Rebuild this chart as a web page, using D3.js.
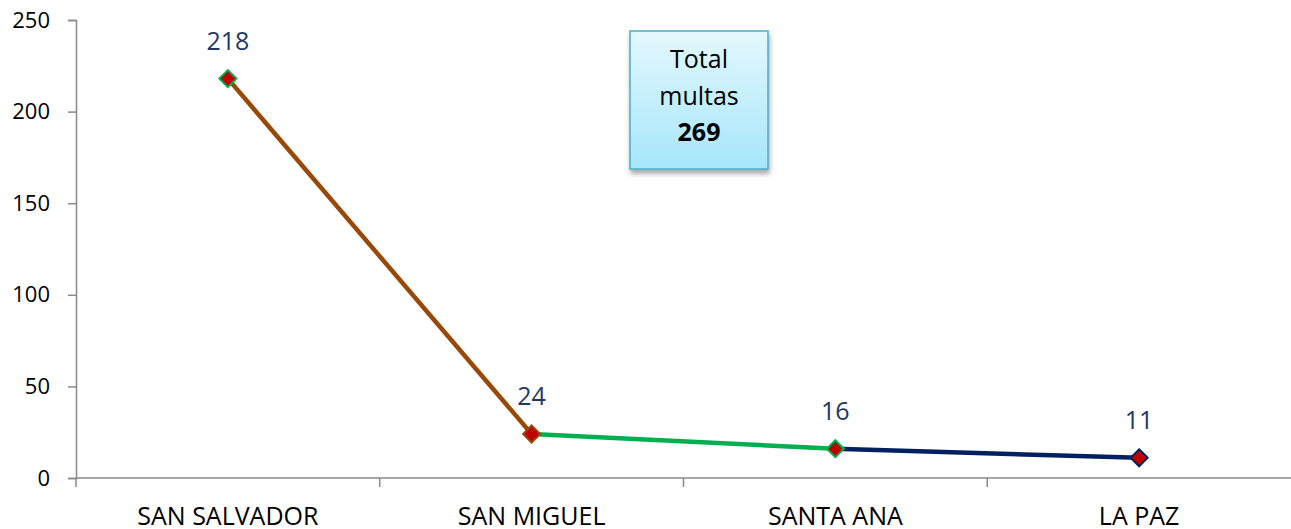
<!DOCTYPE html>
<html>
<head>
<meta charset="utf-8">
<script src="https://cdn.jsdelivr.net/npm/d3@7"></script>
<style>
  body { margin: 0; background: #fff; }
  svg { display: block; }
  svg text { font-family: "Open Sans", sans-serif; }
</style>
</head>
<body>
<svg id="chart" width="1291" height="529"></svg>
<script>
var categories = ["SAN SALVADOR", "SAN MIGUEL", "SANTA ANA", "LA PAZ"];
var values = [218, 24, 16, 11];
var segmentColors = ["#984807", "#00B050", "#002060"];
var markerStrokes = ["#00B050", "#984807", "#00B050", "#002060"];
var yTicks = [0, 50, 100, 150, 200, 250];
var totalLines = ["Total", "multas", "269"];

var svg = d3.select("#chart");
var plotLeft = 76, plotRight = 1291, plotTop = 20, plotBottom = 478;

var x = d3.scaleBand().domain(categories).range([plotLeft, plotRight]);
var y = d3.scaleLinear().domain([0, 250]).range([plotBottom, plotTop]);

// y axis
var yAxis = svg.append("g").attr("transform", "translate(" + plotLeft + ",0)")
  .call(d3.axisLeft(y).tickValues(yTicks).tickSize(8).tickPadding(18));
yAxis.select(".domain").attr("stroke", "#898989").attr("stroke-width", 1.5);
yAxis.selectAll(".tick line").attr("stroke", "#898989").attr("stroke-width", 1.5);
yAxis.selectAll(".tick text").attr("font-size", 22).attr("fill", "#000")
  .attr("font-family", "'Open Sans', sans-serif");

// x axis line and ticks at band edges
svg.append("line").attr("x1", plotLeft).attr("x2", plotRight).attr("y1", plotBottom).attr("y2", plotBottom)
  .attr("stroke", "#898989").attr("stroke-width", 1.5);
svg.selectAll(".xtick").data(categories).enter().append("line")
  .attr("x1", function(d) { return x(d); })
  .attr("x2", function(d) { return x(d); })
  .attr("y1", plotBottom).attr("y2", plotBottom + 9)
  .attr("stroke", "#898989").attr("stroke-width", 1.5);
svg.selectAll(".xlab").data(categories).enter().append("text")
  .attr("x", function(d) { return x(d) + x.bandwidth() / 2; })
  .attr("y", 525)
  .attr("text-anchor", "middle")
  .attr("font-size", 25)
  .text(function(d) { return d; });

var px = function(i) { return x(categories[i]) + x.bandwidth() / 2; };

// line segments, each with its own colour
var segs = d3.range(values.length - 1);
svg.selectAll(".seg").data(segs).enter().append("line")
  .attr("x1", function(i) { return px(i); })
  .attr("y1", function(i) { return y(values[i]); })
  .attr("x2", function(i) { return px(i + 1); })
  .attr("y2", function(i) { return y(values[i + 1]); })
  .attr("stroke", function(i) { return segmentColors[i]; })
  .attr("stroke-width", 4.5);

// diamond markers
var diamond = d3.symbol().type(d3.symbolDiamond2).size(185);
svg.selectAll(".pt").data(values).enter().append("path")
  .attr("d", diamond)
  .attr("transform", function(d, i) { return "translate(" + px(i) + "," + y(d) + ")"; })
  .attr("fill", "#C00000")
  .attr("stroke", function(d, i) { return markerStrokes[i]; })
  .attr("stroke-width", 2);

// value labels
svg.selectAll(".val").data(values).enter().append("text")
  .attr("x", function(d, i) { return px(i); })
  .attr("y", function(d) { return y(d) - 29; })
  .attr("text-anchor", "middle")
  .attr("font-size", 25)
  .attr("fill", "#1F3864")
  .text(function(d) { return d; });

// total box
var defs = svg.append("defs");
var grad = defs.append("linearGradient").attr("id", "boxGrad")
  .attr("x1", 0).attr("y1", 0).attr("x2", 0).attr("y2", 1);
grad.append("stop").attr("offset", "0%").attr("stop-color", "#E4F8FE");
grad.append("stop").attr("offset", "100%").attr("stop-color", "#A6E6FA");
var filt = defs.append("filter").attr("id", "shadow")
  .attr("x", "-20%").attr("y", "-20%").attr("width", "150%").attr("height", "150%");
filt.append("feDropShadow").attr("dx", 1).attr("dy", 4).attr("stdDeviation", 2.5)
  .attr("flood-color", "#000").attr("flood-opacity", 0.35);

svg.append("rect").attr("x", 630).attr("y", 31).attr("width", 138).attr("height", 138)
  .attr("fill", "url(#boxGrad)").attr("stroke", "#4BACC6").attr("stroke-width", 1.5)
  .attr("filter", "url(#shadow)");
svg.selectAll(".tot").data(totalLines).enter().append("text")
  .attr("x", 699)
  .attr("y", function(d, i) { return 68 + i * 36.5; })
  .attr("text-anchor", "middle")
  .attr("font-size", 25)
  .attr("font-weight", function(d, i) { return i === 2 ? "bold" : "normal"; })
  .text(function(d) { return d; });
</script>
</body>
</html>
